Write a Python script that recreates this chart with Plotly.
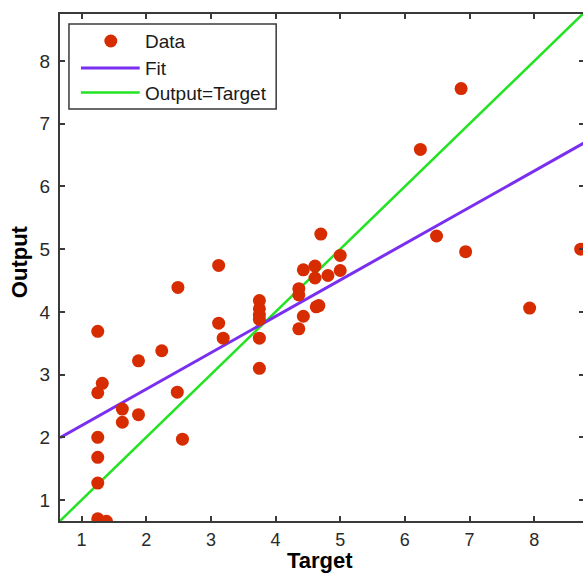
import plotly.graph_objects as go

# ---- data ----
target = [1.25, 1.32, 1.25, 1.88, 2.24, 1.63, 1.63, 1.88, 2.48, 1.25, 2.56, 1.25, 1.25, 1.25, 1.385,
          3.12, 2.49, 3.12, 3.19, 3.75, 3.75, 3.75, 3.75, 3.75, 3.75,
          4.36, 4.36, 4.36, 4.43, 4.43, 4.61, 4.61, 4.63, 4.67, 4.81, 5.00, 5.00, 4.70,
          6.87, 6.24, 6.49, 6.94, 7.93, 8.72]
output = [3.69, 2.86, 2.71, 3.22, 3.38, 2.45, 2.24, 2.36, 2.72, 2.00, 1.97, 1.68, 1.27, 0.70, 0.66,
          4.74, 4.39, 3.82, 3.58, 4.18, 4.05, 3.95, 3.88, 3.58, 3.10,
          4.37, 4.27, 3.73, 3.93, 4.67, 4.73, 4.54, 4.08, 4.10, 4.58, 4.90, 4.66, 5.24,
          7.56, 6.59, 5.21, 4.96, 4.06, 5.00]

fit_x = [0.666, 8.8]
fit_y = [1.995, 6.71]

ident = [0.666, 8.8]

x_ticks = [1, 2, 3, 4, 5, 6, 7, 8]
y_ticks = [1, 2, 3, 4, 5, 6, 7, 8]

legend_labels = ["Data", "Fit", "Output=Target"]

# ---- styles ----
RED = "#d62c00"
PURPLE = "#7a2ff0"
GREEN = "#22e322"
AXIS = "#3a3a3a"
FONT = "Liberation Sans, Arial, sans-serif"

# the reference is cropped on the right: the figure is slightly wider than the window
W, H = 586, 574
PL, PR, PT, PB = 60, 586, 14, 521          # plot area in pixels
L, R, T, B = PL, W - PR, PT, H - PB
PW, PH = PR - PL, PB - PT


def px2paper(px, py):
    return (px - PL) / PW, (PB - py) / PH


fig = go.Figure()
fig.add_trace(go.Scatter(x=ident, y=ident, mode="lines", name=legend_labels[2],
                         line=dict(color=GREEN, width=2.5), showlegend=False))
fig.add_trace(go.Scatter(x=fit_x, y=fit_y, mode="lines", name=legend_labels[1],
                         line=dict(color=PURPLE, width=3), showlegend=False))
fig.add_trace(go.Scatter(x=target, y=output, mode="markers", name=legend_labels[0],
                         marker=dict(color=RED, size=13, line=dict(width=0)),
                         cliponaxis=True, showlegend=False))

axis_common = dict(showgrid=False, zeroline=False, showline=True, linecolor=AXIS, linewidth=2,
                   mirror="ticks", ticks="inside", ticklen=5, tickwidth=1.5, tickcolor=AXIS)

fig.update_xaxes(range=[0.666, 0.666 + PW / 64.9], tickvals=x_ticks,
                 ticktext=[str(v) for v in x_ticks], ticklabelstandoff=1,
                 tickfont=dict(family=FONT, size=18, color="#2a2a2a"), **axis_common)
fig.update_yaxes(range=[0.665, 8.75], tickvals=y_ticks, ticktext=[str(v) for v in y_ticks],
                 ticklabelstandoff=4,
                 tickfont=dict(family=FONT, size=19, color="#2a2a2a"), **axis_common)

# ---- manual MATLAB-style legend ----
shapes = []
x0, y0 = px2paper(69, 109)
x1, y1 = px2paper(277, 24)
shapes.append(dict(type="rect", xref="paper", yref="paper", x0=x0, y0=y0, x1=x1, y1=y1,
                   line=dict(color=AXIS, width=1.5), fillcolor="white", layer="above"))
lx0, _ = px2paper(81, 0)
lx1, _ = px2paper(140, 0)
_, fy = px2paper(0, 68)
_, gy = px2paper(0, 92.5)
shapes.append(dict(type="line", xref="paper", yref="paper", x0=lx0, x1=lx1, y0=fy, y1=fy,
                   line=dict(color=PURPLE, width=3), layer="above"))
shapes.append(dict(type="line", xref="paper", yref="paper", x0=lx0, x1=lx1, y0=gy, y1=gy,
                   line=dict(color=GREEN, width=2.5), layer="above"))
cx0, cy0 = px2paper(104.5, 47.5)
cx1, cy1 = px2paper(117.5, 34.5)
shapes.append(dict(type="circle", xref="paper", yref="paper", x0=cx0, x1=cx1, y0=cy0, y1=cy1,
                   line=dict(width=0), fillcolor=RED, layer="above"))

annotations = []
tx, _ = px2paper(143, 0)
for lab, py in zip(legend_labels, [41, 68, 93]):
    _, ty = px2paper(0, py)
    annotations.append(dict(text=lab, xref="paper", yref="paper", x=tx, y=ty,
                            xanchor="left", yanchor="middle", showarrow=False,
                            font=dict(family=FONT, size=19, color="#1a1a1a")))

# axis titles
ax, ay = px2paper(321, 574)
annotations.append(dict(text="<b>Target</b>", xref="paper", yref="paper", x=ax, y=ay,
                        xanchor="center", yanchor="bottom", showarrow=False, borderpad=0,
                        font=dict(family=FONT, size=22, color="black")))
ox, oy = px2paper(19, 262)
annotations.append(dict(text="<b>Output</b>", xref="paper", yref="paper", x=ox, y=oy,
                        xanchor="center", yanchor="middle", showarrow=False, textangle=-90,
                        font=dict(family=FONT, size=22, color="black")))

fig.update_layout(width=W, height=H, margin=dict(l=L, r=R, t=T, b=B, pad=0),
                  paper_bgcolor="white", plot_bgcolor="white",
                  shapes=shapes, annotations=annotations, showlegend=False)

# remove the default 8px page margin so the figure fills the window exactly
fig.write_html("out.html", config={"displayModeBar": False},
               post_script="document.body.style.margin='0px';"
                           "document.body.style.overflow='hidden';")
